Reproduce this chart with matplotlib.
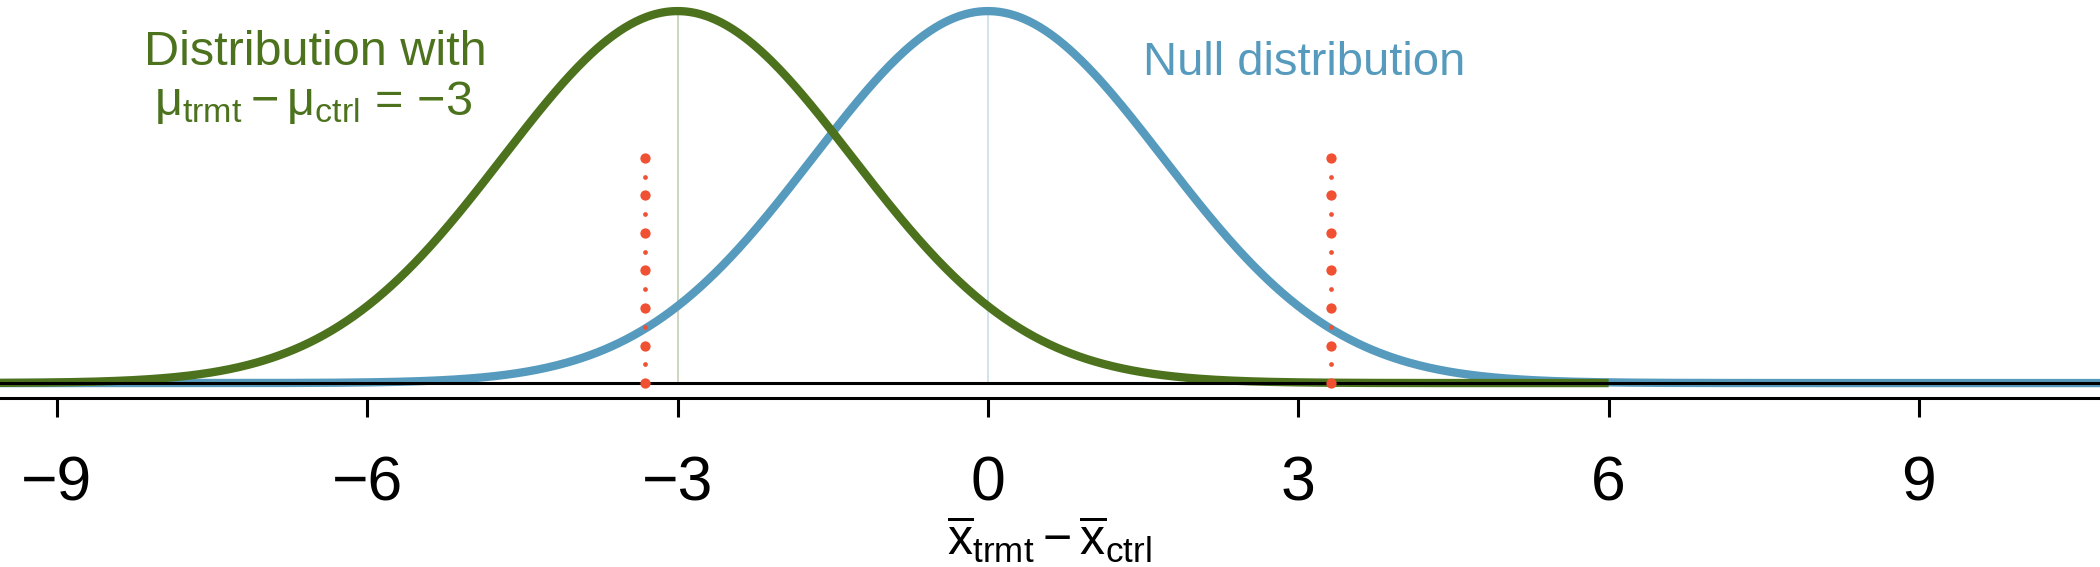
import numpy as np
import matplotlib
matplotlib.use('Agg')
import matplotlib.pyplot as plt

plt.rcParams['font.family'] = ['Liberation Sans', 'DejaVu Sans']
plt.rcParams['mathtext.fontset'] = 'custom'
plt.rcParams['mathtext.rm'] = 'Liberation Sans'
plt.rcParams['mathtext.it'] = 'Liberation Sans'
plt.rcParams['mathtext.bf'] = 'Liberation Sans:bold'
plt.rcParams['mathtext.sf'] = 'Liberation Sans'

# data
null_mean = 0.0
alt_mean = -3.0
sd = 1.69
alt_curve_end = 6.0
z_crit = 1.96
dot_height = 0.143
xticks = [-9, -6, -3, 0, 3, 6, 9]

COL_BLUE = '#569BBD'
COL_GREEN = '#4C721D'
COL_RED = '#F05133'


def dnorm(x, mu, s):
    return np.exp(-0.5 * ((x - mu) / s) ** 2) / (s * np.sqrt(2 * np.pi))


fig = plt.figure(figsize=(21, 5.67), dpi=100)
ax = fig.add_axes([0, 0.298, 1, 0.702])

x_null = np.linspace(-12, 12, 1000)
x_alt = np.linspace(-12, alt_curve_end, 1000)

# faint vertical lines at the centers
ax.plot([alt_mean, alt_mean], [0, dnorm(alt_mean, alt_mean, sd)],
        color=COL_GREEN, alpha=0.28, lw=1.4, zorder=1)
ax.plot([null_mean, null_mean], [0, dnorm(null_mean, null_mean, sd)],
        color=COL_BLUE, alpha=0.28, lw=1.4, zorder=1)

ax.plot(x_null, dnorm(x_null, null_mean, sd), color=COL_BLUE, lw=6,
        solid_capstyle='butt', zorder=2)
ax.plot(x_alt, dnorm(x_alt, alt_mean, sd), color=COL_GREEN, lw=6,
        solid_capstyle='butt', zorder=3)

ax.axhline(0, color='black', lw=2.2, zorder=4)

# rejection cutoffs drawn as dotted lines (alternating dot sizes)
cut = z_crit * sd
dots_y = np.linspace(0, dot_height, 13)
for c in [null_mean - cut, null_mean + cut]:
    big = dots_y[0::2]
    small = dots_y[1::2]
    ax.plot(np.full(len(big), c), big, 'o', color=COL_RED, ms=7.4,
            mew=0, zorder=5)
    ax.plot(np.full(len(small), c), small, 'o', color=COL_RED, ms=3.4,
            mew=0, zorder=5)

ax.set_xlim(-9.55, 10.75)
ax.set_ylim(-0.0095, 0.2431)
ax.set_xticks(xticks)
ax.set_yticks([])
for s in ['top', 'left', 'right']:
    ax.spines[s].set_visible(False)
ax.spines['bottom'].set_linewidth(2.2)
ax.tick_params(axis='x', direction='out', length=14, width=2.2,
               pad=27, labelsize=45)

fig.text(0.15, 0.885, 'Distribution with', color=COL_GREEN, fontsize=35,
         ha='center', va='baseline')
fig.text(0.149, 0.797,
         r'$\mu_{\mathrm{trmt}}-\mu_{\mathrm{ctrl}}$ = ' + '\u22123',
         color=COL_GREEN, fontsize=35, ha='center', va='baseline')
fig.text(1143 / 2100, 0.868, 'Null distribution', color=COL_BLUE,
         fontsize=34, ha='left', va='baseline')
fig.text(1049 / 2100, 0.022,
         r'$\overline{\mathrm{x}}_{\mathrm{trmt}}-\overline{\mathrm{x}}_{\mathrm{ctrl}}$',
         fontsize=36, ha='center', va='baseline')

plt.savefig('out.png', dpi=100)
